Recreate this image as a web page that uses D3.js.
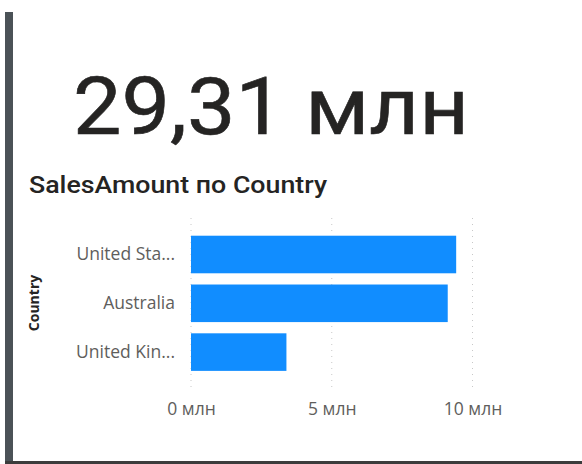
<!DOCTYPE html>
<html>
<head>
<meta charset="utf-8">
<script src="https://cdn.jsdelivr.net/npm/d3@7"></script>
<style>
  body { margin: 0; background: #fff; }
  svg { display: block; }
</style>
</head>
<body>
<div id="chart"></div>
<script>
let cardValue = "29,31 млн"
let chartTitle = "SalesAmount по Country"
let countries = ["United Sta...", "Australia", "United Kin..."]
let sales = [9.42, 9.12, 3.39]   // млн
let ticks = [0, 5, 10]

var W = 582, H = 464

var svg = d3.select("#chart").append("svg")
    .attr("width", W)
    .attr("height", H)

// card frame: dark left strip and bottom edge
svg.append("rect").attr("x", 5).attr("y", 12).attr("width", 8).attr("height", 452).attr("fill", "#4b5257")
svg.append("rect").attr("x", 5).attr("y", 461).attr("width", 577).attr("height", 3).attr("fill", "#3c3c3c")

// big KPI number
svg.append("text")
    .attr("x", 73).attr("y", 134)
    .attr("font-family", "Roboto, DejaVu Sans Condensed")
    .attr("font-size", 80)
    .attr("fill", "#252423")
    .attr("stroke", "#252423")
    .attr("stroke-width", 0.6)
    .attr("textLength", 396)
    .attr("lengthAdjust", "spacingAndGlyphs")
    .text(cardValue)

// chart title
svg.append("text")
    .attr("x", 29).attr("y", 193)
    .attr("font-family", "Roboto, DejaVu Sans Condensed")
    .attr("font-weight", 500)
    .attr("font-size", 23)
    .attr("fill", "#252423")
    .attr("textLength", 298)
    .attr("lengthAdjust", "spacingAndGlyphs")
    .text(chartTitle)

var margin = { top: 218, left: 191 }
var plotH = 392 - margin.top

var x = d3.scaleLinear().domain([0, 10]).range([0, 281.5])
var y = d3.scaleBand().domain(countries).range([0, 170.6]).paddingInner(0.23).paddingOuter(0.363)

var g = svg.append("g").attr("transform", "translate(" + margin.left + "," + margin.top + ")")

// dotted gridlines
g.selectAll(".grid")
    .data(ticks)
    .enter().append("line")
    .attr("x1", d => x(d)).attr("x2", d => x(d))
    .attr("y1", 0).attr("y2", plotH)
    .attr("stroke", "#c8c8c8")
    .attr("stroke-width", 1)
    .attr("stroke-dasharray", "1,5")

// bars
g.selectAll(".bar")
    .data(sales)
    .enter().append("rect")
    .attr("x", 0)
    .attr("y", (d, i) => y(countries[i]))
    .attr("width", d => x(d))
    .attr("height", y.bandwidth())
    .attr("fill", "#118dff")

// x axis labels
var xAxis = g.append("g")
    .attr("transform", "translate(0," + (plotH + 8) + ")")
    .call(d3.axisBottom(x).tickValues(ticks).tickSize(0).tickFormat(d => d + " млн"))
xAxis.select(".domain").remove()
xAxis.selectAll("text")
    .attr("font-family", "Open Sans, DejaVu Sans")
    .attr("font-size", 17.5)
    .attr("fill", "#605e5c")

// y axis labels
var yAxis = g.append("g")
    .attr("transform", "translate(-13,0)")
    .call(d3.axisLeft(y).tickSize(0))
yAxis.select(".domain").remove()
yAxis.selectAll("text")
    .attr("font-family", "Open Sans, DejaVu Sans")
    .attr("font-size", 17.5)
    .attr("fill", "#605e5c")

// axis title
svg.append("text")
    .attr("transform", "translate(39,303) rotate(-90)")
    .attr("text-anchor", "middle")
    .attr("font-family", "Open Sans, DejaVu Sans")
    .attr("font-weight", "bold")
    .attr("font-size", 14)
    .attr("fill", "#252423")
    .text("Country")
</script>
</body>
</html>
